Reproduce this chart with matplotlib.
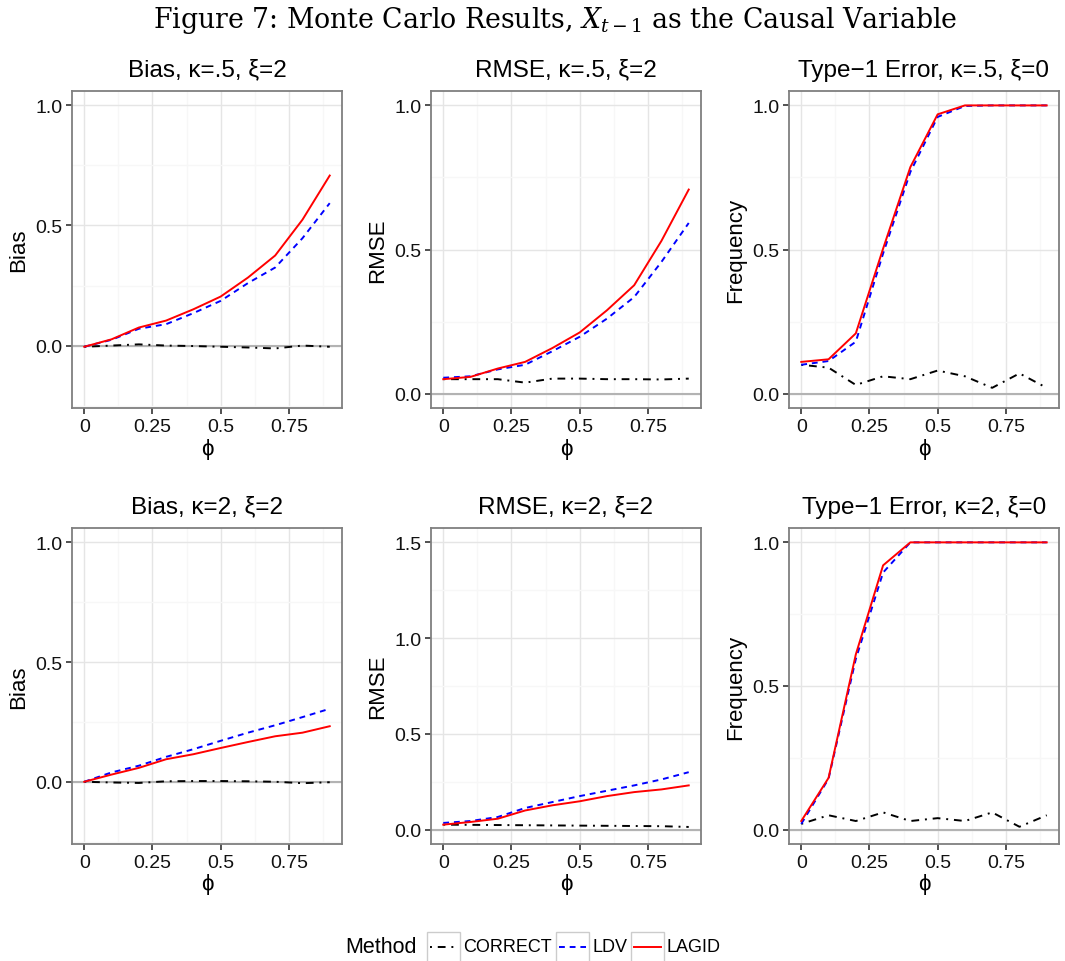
import numpy as np
import matplotlib
matplotlib.use("Agg")
import matplotlib.pyplot as plt
from matplotlib.lines import Line2D
from matplotlib.patches import Rectangle

# phi grid used in the simulations
phi = [0.0, 0.1, 0.2, 0.3, 0.4, 0.5, 0.6, 0.7, 0.8, 0.9]

# kappa = .5
bias_k05_correct = [-0.005, 0.0, 0.005, 0.0, -0.002, -0.005, -0.008, -0.012, 0.0, -0.005]
bias_k05_ldv = [-0.005, 0.024, 0.07, 0.089, 0.135, 0.186, 0.26, 0.325, 0.447, 0.593]
bias_k05_lagid = [-0.005, 0.026, 0.075, 0.104, 0.151, 0.204, 0.283, 0.375, 0.524, 0.708]

rmse_k05_correct = [0.05, 0.05, 0.05, 0.038, 0.052, 0.052, 0.05, 0.05, 0.049, 0.052]
rmse_k05_ldv = [0.055, 0.06, 0.084, 0.1, 0.147, 0.197, 0.26, 0.335, 0.457, 0.592]
rmse_k05_lagid = [0.05, 0.058, 0.087, 0.11, 0.158, 0.212, 0.289, 0.376, 0.53, 0.708]

type1_k05_correct = [0.10, 0.09, 0.03, 0.06, 0.05, 0.08, 0.06, 0.02, 0.07, 0.02]
type1_k05_ldv = [0.10, 0.113, 0.18, 0.486, 0.769, 0.96, 0.998, 1.0, 1.0, 1.0]
type1_k05_lagid = [0.11, 0.119, 0.209, 0.503, 0.786, 0.969, 1.0, 1.0, 1.0, 1.0]

# kappa = 2
bias_k2_correct = [0.0, -0.003, -0.005, 0.002, 0.003, 0.003, 0.002, 0.0, -0.006, -0.002]
bias_k2_ldv = [0.0, 0.039, 0.067, 0.104, 0.136, 0.171, 0.205, 0.236, 0.27, 0.305]
bias_k2_lagid = [0.0, 0.03, 0.058, 0.094, 0.115, 0.141, 0.166, 0.19, 0.205, 0.232]

rmse_k2_correct = [0.026, 0.025, 0.024, 0.023, 0.022, 0.021, 0.02, 0.019, 0.018, 0.014]
rmse_k2_ldv = [0.035, 0.045, 0.066, 0.113, 0.144, 0.175, 0.203, 0.231, 0.262, 0.30]
rmse_k2_lagid = [0.026, 0.04, 0.057, 0.10, 0.127, 0.148, 0.175, 0.196, 0.21, 0.231]

type1_k2_correct = [0.02, 0.05, 0.03, 0.06, 0.03, 0.04, 0.03, 0.06, 0.01, 0.05]
type1_k2_ldv = [0.02, 0.177, 0.594, 0.895, 1.0, 1.0, 1.0, 1.0, 1.0, 1.0]
type1_k2_lagid = [0.03, 0.18, 0.61, 0.92, 1.0, 1.0, 1.0, 1.0, 1.0, 1.0]

methods = ["CORRECT", "LDV", "LAGID"]
colors = {"CORRECT": "black", "LDV": "blue", "LAGID": "red"}
styles = {"CORRECT": (0, (1, 3, 4, 3)), "LDV": (0, (3, 2.5)), "LAGID": "-"}

sans = ["Liberation Sans", "DejaVu Sans"]
plt.rcParams["font.family"] = sans
plt.rcParams["mathtext.fontset"] = "dejavuserif"

panels = [
    ("Bias, κ=.5, ξ=2", "Bias", [bias_k05_correct, bias_k05_ldv, bias_k05_lagid], (-0.2, 1.0), [0.0, 0.5, 1.0]),
    ("RMSE, κ=.5, ξ=2", "RMSE", [rmse_k05_correct, rmse_k05_ldv, rmse_k05_lagid], (0.0, 1.0), [0.0, 0.5, 1.0]),
    ("Type−1 Error, κ=.5, ξ=0", "Frequency", [type1_k05_correct, type1_k05_ldv, type1_k05_lagid], (0.0, 1.0), [0.0, 0.5, 1.0]),
    ("Bias, κ=2, ξ=2", "Bias", [bias_k2_correct, bias_k2_ldv, bias_k2_lagid], (-0.2, 1.0), [0.0, 0.5, 1.0]),
    ("RMSE, κ=2, ξ=2", "RMSE", [rmse_k2_correct, rmse_k2_ldv, rmse_k2_lagid], (0.0, 1.5), [0.0, 0.5, 1.0, 1.5]),
    ("Type−1 Error, κ=2, ξ=0", "Frequency", [type1_k2_correct, type1_k2_ldv, type1_k2_lagid], (0.0, 1.0), [0.0, 0.5, 1.0]),
]

W, H = 1065, 962
fig = plt.figure(figsize=(W / 100, H / 100), dpi=100)

lefts = [72, 431, 789]
rows = [(92, 409), (529, 845)]

for i, (title, ylab, series, (lo, hi), yt) in enumerate(panels):
    r, c = divmod(i, 3)
    top, bot = rows[r]
    ax = fig.add_axes([lefts[c] / W, 1 - bot / H, 270 / W, (bot - top) / H])

    # ggplot-ish expanded limits
    xpad = 0.9 * 0.05
    ypad = (hi - lo) * 0.05
    ax.set_xlim(-xpad, 0.9 + xpad)
    ax.set_ylim(lo - ypad, hi + ypad)

    xt = [0, 0.25, 0.5, 0.75]
    ax.set_xticks(xt)
    ax.set_xticklabels(["0", "0.25", "0.5", "0.75"])
    ax.set_yticks(yt)
    ax.set_yticklabels([f"{v:.1f}" for v in yt])
    ax.set_xticks([0.125, 0.375, 0.625, 0.875], minor=True)
    ymin = [v + 0.25 for v in yt[:-1]]
    if lo < 0:
        ymin = [-0.25] + ymin
    ax.set_yticks(ymin, minor=True)
    ax.tick_params(which="minor", length=0)
    ax.tick_params(which="major", length=4, width=1.2, color="#333333",
                   labelsize=14, labelcolor="#111111", pad=3)

    ax.grid(which="major", color="#e5e5e5", lw=1)
    ax.grid(which="minor", color="#f7f7f7", lw=1)
    ax.set_axisbelow(True)
    for s in ax.spines.values():
        s.set_color("#7f7f7f")
        s.set_linewidth(1.3)

    ax.axhline(0, color="#b3b3b3", lw=1.5, zorder=1.5)
    for m, y in zip(methods, series):
        ax.plot(phi, y, color=colors[m], linestyle=styles[m], lw=1.4, zorder=3)

    ax.set_title(title, fontsize=17.5, pad=11)
    ax.set_ylabel(ylab, fontsize=16, labelpad=4)
    ax.set_xlabel("ϕ", fontsize=16, labelpad=2)

fig.text(555 / W, 1 - 20 / H, r"Figure 7: Monte Carlo Results, $X_{t-1}$ as the Causal Variable",
         ha="center", va="center", fontsize=19.3, family="DejaVu Serif")

# legend at the bottom, ggplot style keys with light boxes
yc = 1 - 948 / H
fig.text(345 / W, yc, "Method", fontsize=15.5, va="center", ha="left")
key_x = [427, 556, 631]
for m, kx in zip(methods, key_x):
    fig.add_artist(Rectangle((kx / W, 1 - 966 / H), 33 / W, 33 / H, transform=fig.transFigure,
                             facecolor="white", edgecolor="#cccccc", lw=1))
    fig.add_artist(Line2D([(kx + 3) / W, (kx + 30) / W], [yc, yc], transform=fig.transFigure,
                          color=colors[m], linestyle=styles[m], lw=1.4))
    fig.text((kx + 36) / W, yc, m, fontsize=13, va="center", ha="left")

fig.savefig("out.png", dpi=100)
